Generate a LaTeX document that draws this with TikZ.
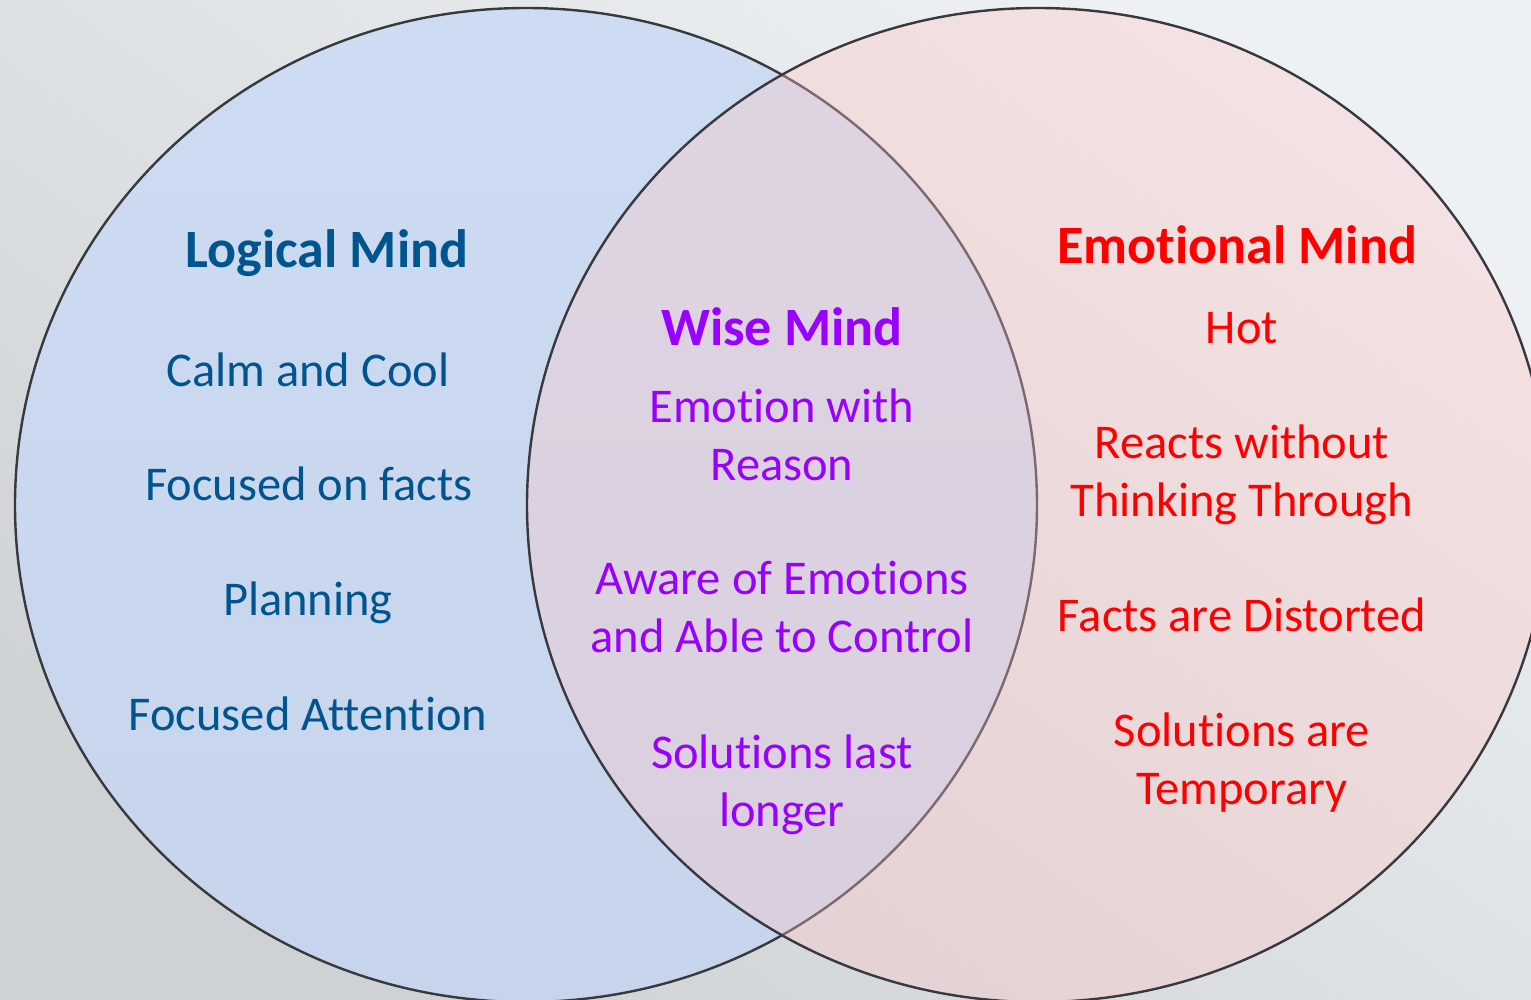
\documentclass[tikz,border=0pt]{standalone}
\usepackage{fontspec}
\setmainfont{Carlito}[Ligatures=NoCommon]
\begin{document}
\begin{tikzpicture}[x=1pt,y=-1pt,
  bodytext/.style={font=\fontsize{48.5}{58}\selectfont, align=center, anchor=base},
  headtext/.style={font=\fontsize{54}{64}\selectfont\bfseries, anchor=base},
  ringline/.style={draw=ringgrey, line width=2.4pt}]
\definecolor{bglight}{HTML}{EEF1F3}
\definecolor{bgdark}{HTML}{CFD2D5}
\definecolor{logicfill}{HTML}{CDDCF2}
\definecolor{logicfilldark}{HTML}{C6D4EC}
\definecolor{emofill}{HTML}{FFC6C6}
\definecolor{ringgrey}{HTML}{38383E}
\definecolor{logicblue}{HTML}{00558F}
\definecolor{wisepurple}{HTML}{9900FF}
\definecolor{emored}{HTML}{FF0000}
% canvas
\useasboundingbox (0,0) rectangle (1531,999);
\shade[shading=axis, left color=bgdark, right color=bglight, shading angle=145]
  (0,0) rectangle (1531,999);
\coordinate (lc) at (526,505);
\coordinate (rc) at (1038,505);
\begin{scope}
  \clip (0,0) rectangle (1531,999);
  % left ring
  \shade[top color=logicfill, bottom color=logicfilldark]
    (lc) ellipse [x radius=511, y radius=497];
  \draw[ringline] (lc) ellipse [x radius=511, y radius=497];
  % right ring, see-through
  \fill[emofill, fill opacity=0.35] (rc) ellipse [x radius=511, y radius=497];
  \draw[ringline] (rc) ellipse [x radius=511, y radius=497];
\end{scope}
% Logical Mind
\node[headtext, text=logicblue] (lh) at (327,267) {Logical Mind};
\node[bodytext, text=logicblue] (l1) at (308,386) {Calm and Cool};
\node[bodytext, text=logicblue] (l2) at (309,500) {Focused on facts};
\node[bodytext, text=logicblue] (l3) at (308,615) {Planning};
\node[bodytext, text=logicblue] (l4) at (308,730) {Focused Attention};
% Wise Mind (two-line nodes sit on their last baseline)
\node[headtext, text=wisepurple] (wh) at (782,345) {Wise Mind};
\node[bodytext, text=wisepurple] (w1) at (782,480) {Emotion with\\Reason};
\node[bodytext, text=wisepurple] (w2) at (782,652) {Aware of Emotions\\and Able to Control};
\node[bodytext, text=wisepurple] (w3) at (782,826) {Solutions last\\longer};
% Emotional Mind
\node[headtext, text=emored] (eh) at (1237,263) {Emotional Mind};
\node[bodytext, text=emored] (e1) at (1242,343) {Hot};
\node[bodytext, text=emored] (e2) at (1242,516) {Reacts without\\Thinking Through};
\node[bodytext, text=emored] (e3) at (1242,631) {Facts are Distorted};
\node[bodytext, text=emored] (e4) at (1242,804) {Solutions are\\Temporary};
\end{tikzpicture}
\end{document}
